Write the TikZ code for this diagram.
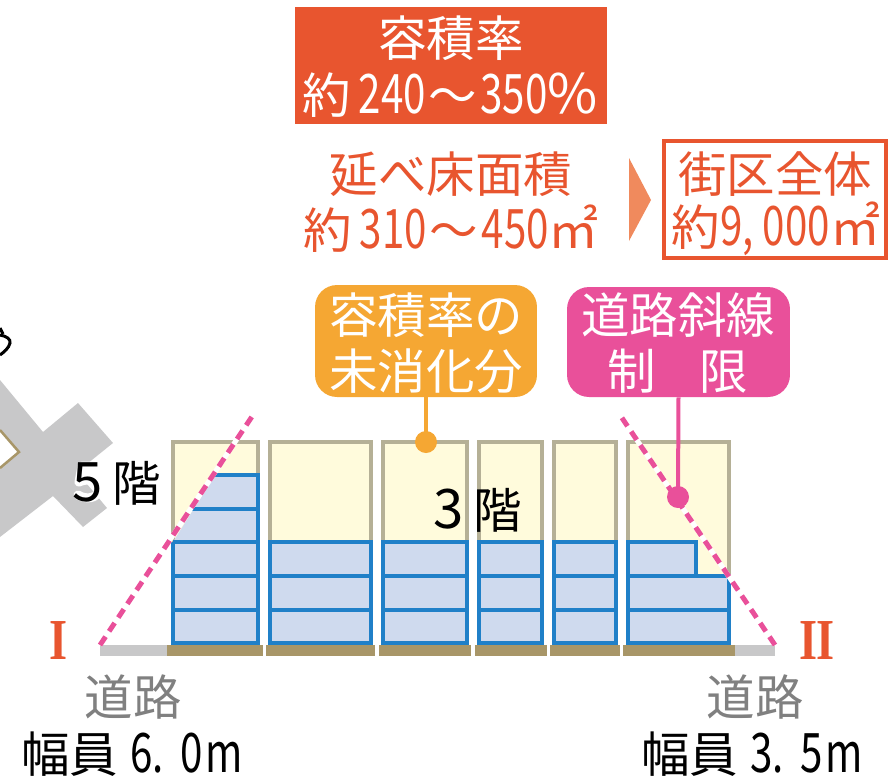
\documentclass[tikz,border=0pt]{standalone}
\usepackage{fontspec}
\usepackage{tikz}
\newfontfamily\jpfont{Noto Sans CJK JP}
\newfontfamily\numfont[FakeStretch=0.74]{Noto Sans CJK JP}
\newfontfamily\romanfont[FakeStretch=0.8]{Liberation Serif}
\newcommand{\bignum}[1]{{\numfont\fontsize{31}{32}\selectfont #1}}
\newcommand{\bigsym}[1]{{\jpfont\fontsize{31}{32}\selectfont #1}}
\newcommand{\areasym}{{\jpfont\fontsize{28.5}{32}\selectfont ㎡}}
\definecolor{redorange}{HTML}{E8552F}
\definecolor{lightorange}{HTML}{F08A5D}
\definecolor{labelorange}{HTML}{F5A733}
\definecolor{labelpink}{HTML}{E9509A}
\definecolor{floorblue}{HTML}{2080C8}
\definecolor{floorfill}{HTML}{CFDAEE}
\definecolor{cream}{HTML}{FFFBDC}
\definecolor{creamline}{HTML}{B5B096}
\definecolor{basetan}{HTML}{A89668}
\definecolor{roadgray}{HTML}{C8C8C9}
\definecolor{textgray}{HTML}{808080}
\tikzset{
	bigtext/.style={font=\jpfont\fontsize{27.6}{32}\selectfont,inner sep=0pt},
	romantext/.style={font=\romanfont\bfseries\fontsize{33}{36}\selectfont,inner sep=0pt,text=redorange},
	volume/.style={fill=cream,draw=creamline,line width=0.8mm},
	floor/.style={fill=floorfill,draw=floorblue,line width=0.8mm},
	floorline/.style={draw=floorblue,line width=0.8mm},
	slope/.style={draw=labelpink,line width=1mm,dash pattern=on 2mm off 1.3mm},
}
\begin{document}
\begin{tikzpicture}[x=0.02cm,y=-0.02cm]
	\useasboundingbox (0,0) rectangle (893,779);
	%Site plan
	\fill[roadgray] (0,380) -- (43,432) -- (78,403) -- (113,443) -- (77,472) -- (107,508) -- (83,527) -- (53,496) -- (0,537) -- cycle;
	\draw[fill=white,draw=basetan,line width=0.5mm] (0,430) -- (19,452) -- (0,468);
	\draw[line width=0.6mm] (0,335) .. controls (6,336) and (11,339) .. (10,343) .. controls (9,348) and (4,352) .. (0,355);
	\draw[line width=0.6mm] (0,328) -- (3,334);
	\draw[white,line width=1.8mm,line cap=round,line join=round] (100,466) -- (82,466) -- (79,482) .. controls (94,476) and (101,484) .. (100,488) .. controls (98,499) and (86,500) .. (78,495);
	
	%Ground
	\fill[roadgray] (100,645) rectangle (167,656);
	\fill[roadgray] (735,645) rectangle (775,656);
	\fill[basetan] (167,645) rectangle (263,656);
	\fill[basetan] (266,645) rectangle (375,656);
	\fill[basetan] (379,645) rectangle (471,656);
	\fill[basetan] (475,645) rectangle (547,656);
	\fill[basetan] (550,645) rectangle (620,656);
	\fill[basetan] (623,645) rectangle (735,656);
	
	%Allowed volume
	\draw[volume] (173,442) rectangle (258,643);
	\draw[volume] (270,442) rectangle (371,643);
	\draw[volume] (383,442) rectangle (467,643);
	\draw[volume] (479,442) rectangle (542,643);
	\draw[volume] (554,442) rectangle (616,643);
	\draw[volume] (628,442) rectangle (729,643);
	
	%Floors
	\fill[floorfill] (173,542) -- (215,475) -- (258,475) -- (258,643) -- (173,643) -- cycle;
	\draw[floorline] (215,475) -- (258,475) -- (258,643) -- (173,643) -- (173,542);
	\draw[floorline] (192,509) -- (258,509);
	\draw[floorline] (173,542) -- (258,542);
	\draw[floorline] (173,576) -- (258,576);
	\draw[floorline] (173,610) -- (258,610);
	\draw[floor] (270,542) rectangle (371,643);
	\draw[floor] (270,576) -- (371,576);
	\draw[floor] (270,610) -- (371,610);
	\draw[floor] (383,542) rectangle (467,643);
	\draw[floor] (383,576) -- (467,576);
	\draw[floor] (383,610) -- (467,610);
	\draw[floor] (479,542) rectangle (542,643);
	\draw[floor] (479,576) -- (542,576);
	\draw[floor] (479,610) -- (542,610);
	\draw[floor] (554,542) rectangle (616,643);
	\draw[floor] (554,576) -- (616,576);
	\draw[floor] (554,610) -- (616,610);
	\draw[floor] (628,542) rectangle (696,576);
	\draw[floor] (628,576) rectangle (729,643);
	\draw[floor] (628,610) -- (729,610);
	
	%Slope lines
	\draw[white,line width=1mm] (100,645) -- (253,415);
	\draw[white,line width=1mm] (775,645) -- (620,415);
	\draw[slope] (100,645) -- (253,415);
	\draw[slope] (775,645) -- (620,415);
	
	%Labels with stems
	\node[fill=labelorange,rounded corners=4.4mm,minimum width=4.44cm,minimum height=2.24cm,inner sep=0pt] (unused) at (426,341) {};
	\node[fill=labelpink,rounded corners=4.4mm,minimum width=4.46cm,minimum height=2.2cm,inner sep=0pt] (roadlimit) at (678.5,342) {};
	\coordinate (unuseddot) at (426,442);
	\coordinate (limitdot) at (678,497);
	\draw[labelorange,line width=0.8mm] (unused.south) -- (unuseddot);
	\draw[labelpink,line width=0.8mm] (roadlimit.south) -- (limitdot);
	\fill[labelorange] (unuseddot) circle (11);
	\fill[labelpink] (limitdot) circle (11);
	\node[bigtext,white] (unused1) at (426,315) {容積率の};
	\node[bigtext,white] (unused2) at (426,371) {未消化分};
	\node[bigtext,white] (limit1) at (678,315) {道路斜線};
	\node[bigtext,white] (limit2) at (678,371) {制\hspace{0.9em}限};
	
	%Header
	\node[fill=redorange,minimum width=6.24cm,minimum height=2.34cm,inner sep=0pt] (ratiobox) at (451,65.5) {};
	\node[bigtext,white] (ratio1) at (451,38) {容積率};
	\node[bigtext,white] (ratio2) at (450,95) {約\,\bignum{240}\hspace{0.05em}～\hspace{0.08em}\bignum{350}\bigsym{\%}};
	\node[bigtext,redorange] (area1) at (451,174) {延べ床面積};
	\node[bigtext,redorange] (area2) at (451,229) {約\,\bignum{310}\hspace{0.05em}～\hspace{0.08em}\bignum{450}\areasym};
	\fill[lightorange] (629,158) -- (651,200) -- (629,241) -- cycle;
	\draw[redorange,line width=0.8mm] (664,141) rectangle (886,258);
	\node[bigtext,redorange] (block1) at (775,174) {街区全体};
	\node[bigtext,redorange] (block2) at (776,229) {約\bignum{9,\,000}\areasym};
	
	%Floor counts and roads
	\node[bigtext] (five) at (117,483) {\bigsym{5}\hspace{0.2em}階};
	\node[bigtext] (three) at (478,510) {\bigsym{3}\hspace{0.2em}階};
	\node[romantext] (roadI) at (59,641) {I};
	\node[romantext] (roadII) at (817,641) {I\kern-0.03em I};
	\node[bigtext,textgray] (road1) at (133,697) {道路};
	\node[bigtext,textgray] (road2) at (755,697) {道路};
	\node[bigtext] (width1) at (132,754) {幅員\hspace{0.25em}\bignum{6.\hspace{0.3em}0\hspace{0.05em}m}};
	\node[bigtext] (width2) at (752,754) {幅員\hspace{0.25em}\bignum{3.\hspace{0.3em}5\hspace{0.05em}m}};
\end{tikzpicture}
\end{document}
